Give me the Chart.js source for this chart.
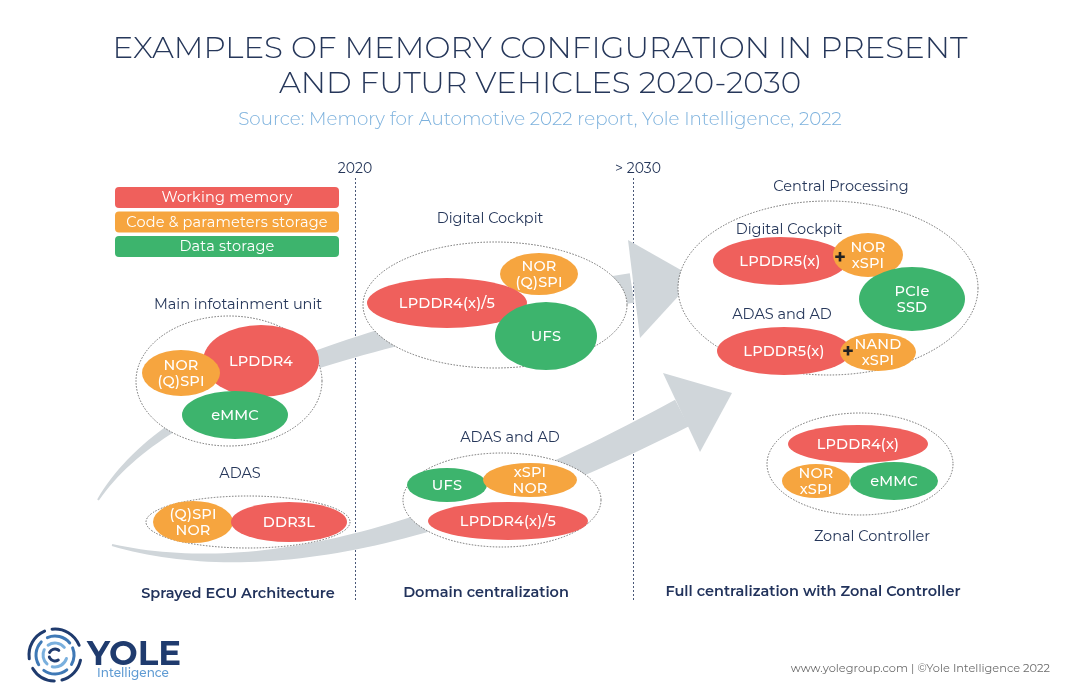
<!DOCTYPE html>
<html>
<head>
<meta charset="utf-8">
<script src="https://cdn.jsdelivr.net/npm/chart.js@4/dist/chart.umd.min.js"></script>
<style>
  html, body { margin: 0; padding: 0; background: #fff; }
  #wrap { width: 1080px; height: 698px; position: relative; }
</style>
</head>
<body>
<div id="wrap"><canvas id="memChart"></canvas></div>
<script>
// ===================================================
// Memory configuration diagram — data
// ===================================================

const titleLines = ['EXAMPLES OF MEMORY CONFIGURATION IN PRESENT', 'AND FUTUR VEHICLES 2020-2030'];
const subtitleText = 'Source: Memory for Automotive 2022 report, Yole Intelligence, 2022';
const legendLabels = ['Working memory', 'Code & parameters storage', 'Data storage'];
const eraLabels = ['2020', '> 2030'];
const eraX = [355, 633];

// memory chips (kind: 0 = working, 1 = code, 2 = data)
const chipLabels = [
  ['LPDDR4'], ['NOR', '(Q)SPI'], ['eMMC'],
  ['(Q)SPI', 'NOR'], ['DDR3L'],
  ['NOR', '(Q)SPI'], ['LPDDR4(x)/5'], ['UFS'],
  ['UFS'], ['xSPI', 'NOR'], ['LPDDR4(x)/5'],
  ['LPDDR5(x)'], ['NOR', 'xSPI'], ['PCIe', 'SSD'], ['LPDDR5(x)'], ['NAND', 'xSPI'],
  ['LPDDR4(x)'], ['NOR', 'xSPI'], ['eMMC']
];
const chipKind = [0, 1, 2, 1, 0, 1, 0, 2, 2, 1, 0, 0, 1, 2, 0, 1, 0, 1, 2];
const chipX  = [261, 181, 235, 193, 289, 539, 447, 546, 447, 530, 508, 780, 868, 912, 784, 878, 858, 816, 894];
const chipY  = [361, 373, 415, 522, 522, 274, 303, 336, 485, 480, 521, 261, 255, 299, 351, 352, 444, 481, 481];
const chipRX = [58, 39, 53, 40, 58, 39, 80, 51, 40, 47, 80, 67, 35, 53, 67, 38, 70, 34, 44];
const chipRY = [36, 23, 24, 21, 20, 21, 25, 34, 17, 17, 19, 24, 22, 32, 24, 19, 19, 17, 19];

// dotted group outlines
const groupX  = [229, 248, 495, 502, 828, 860];
const groupY  = [381, 522, 305, 500, 288, 464];
const groupRX = [93, 102, 132, 99, 150, 93];
const groupRY = [65, 26, 63, 47, 87, 51];

const captionText = ['Main infotainment unit', 'ADAS', 'Digital Cockpit', 'ADAS and AD', 'Central Processing',
                     'Digital Cockpit', 'ADAS and AD', 'Zonal Controller'];
const captionX = [238, 240, 490, 510, 841, 789, 782, 872];
const captionY = [305, 474, 219, 438, 187, 230, 315, 537];

const phaseText = ['Sprayed ECU Architecture', 'Domain centralization', 'Full centralization with Zonal Controller'];
const phaseX = [238, 486, 813];
const phaseY = [594, 593, 592];

const plusX = [840, 848];
const plusY = [258, 352];

// big grey arrows: bezier centre line + head
const arrowPaths = [
  [[98, 500], [160, 400], [350, 330], [632, 288]],
  [[112, 545], [250, 580], [430, 545], [682, 413]]
];
const arrowHeads = [
  [[628, 240], [695, 278], [640, 338]],
  [[663, 373], [732, 393], [700, 452]]
];

const KIND_COLORS = ['#ef605c', '#f6a53f', '#3db46d'];
const NAVY = '#26375a';
const FONT = 'Montserrat, Inter, "Open Sans", sans-serif';

// ===================================================
// Drawing plugin
// ===================================================

function bez(p, t) {
  const u = 1 - t;
  const a = u * u * u, b = 3 * u * u * t, c = 3 * u * t * t, d = t * t * t;
  return [a * p[0][0] + b * p[1][0] + c * p[2][0] + d * p[3][0],
          a * p[0][1] + b * p[1][1] + c * p[2][1] + d * p[3][1]];
}

function text(ctx, str, x, y, font, color, spacing) {
  ctx.font = font;
  ctx.fillStyle = color;
  ctx.textAlign = 'center';
  ctx.textBaseline = 'middle';
  ctx.letterSpacing = (spacing || 0) + 'px';
  ctx.fillText(str, x, y);
  ctx.letterSpacing = '0px';
}

const diagramPlugin = {
  id: 'diagram',
  beforeDatasetsDraw(chart) {
    const ctx = chart.ctx;
    const xs = chart.scales.x, ys = chart.scales.y;
    const px = v => xs.getPixelForValue(v);
    const py = v => ys.getPixelForValue(v);
    ctx.save();

    ctx.fillStyle = '#fff';
    ctx.fillRect(0, 0, chart.width, chart.height);

    // title + source
    text(ctx, titleLines[0], px(540), py(49), `300 31px ${FONT}`, NAVY, 0);
    text(ctx, titleLines[1], px(540), py(84), `300 31px ${FONT}`, NAVY, 0);
    text(ctx, subtitleText, px(540), py(120), `300 18.3px ${FONT}`, '#7cb1dd', 0);

    // era separators
    ctx.strokeStyle = '#4a5878';
    ctx.lineWidth = 1;
    ctx.setLineDash([2, 2]);
    eraX.forEach((x, i) => {
      ctx.beginPath();
      ctx.moveTo(px(x) + 0.5, py(178));
      ctx.lineTo(px(x) + 0.5, py(600));
      ctx.stroke();
      text(ctx, eraLabels[i], px(x) + (i === 0 ? 0 : 5), py(169), `400 14px ${FONT}`, NAVY, 0);
    });
    ctx.setLineDash([]);

    // arrows
    ctx.fillStyle = '#d0d6da';
    arrowPaths.forEach((p, k) => {
      const top = [], bot = [];
      for (let i = 0; i <= 60; i++) {
        const t = i / 60;
        const a = bez(p, Math.max(0, t - 0.01)), b = bez(p, Math.min(1, t + 0.01));
        const c = bez(p, t);
        let dx = px(b[0]) - px(a[0]), dy = py(b[1]) - py(a[1]);
        const n = Math.hypot(dx, dy);
        dx /= n; dy /= n;
        const w = (2 + 28 * t) / 2;
        top.push([px(c[0]) + dy * w, py(c[1]) - dx * w]);
        bot.push([px(c[0]) - dy * w, py(c[1]) + dx * w]);
      }
      ctx.beginPath();
      top.forEach((q, i) => i ? ctx.lineTo(q[0], q[1]) : ctx.moveTo(q[0], q[1]));
      bot.reverse().forEach(q => ctx.lineTo(q[0], q[1]));
      ctx.closePath();
      ctx.fill();
      const h = arrowHeads[k];
      ctx.beginPath();
      ctx.moveTo(px(h[0][0]), py(h[0][1]));
      ctx.lineTo(px(h[1][0]), py(h[1][1]));
      ctx.lineTo(px(h[2][0]), py(h[2][1]));
      ctx.closePath();
      ctx.fill();
    });

    // group outlines
    const gMeta = chart.getDatasetMeta(1);
    gMeta.data.forEach((pt, i) => {
      const rx = px(groupX[i] + groupRX[i]) - pt.x;
      const ry = py(groupY[i] + groupRY[i]) - pt.y;
      ctx.beginPath();
      ctx.ellipse(pt.x, pt.y, rx, ry, 0, 0, Math.PI * 2);
      ctx.fillStyle = '#fff';
      ctx.fill();
      ctx.setLineDash([1.5, 1.5]);
      ctx.strokeStyle = '#6f6f6f';
      ctx.lineWidth = 1;
      ctx.stroke();
      ctx.setLineDash([]);
    });

    // memory chips
    const cMeta = chart.getDatasetMeta(0);
    cMeta.data.forEach((pt, i) => {
      const rx = px(chipX[i] + chipRX[i]) - pt.x;
      const ry = py(chipY[i] + chipRY[i]) - pt.y;
      ctx.beginPath();
      ctx.ellipse(pt.x, pt.y, rx, ry, 0, 0, Math.PI * 2);
      ctx.fillStyle = KIND_COLORS[chipKind[i]];
      ctx.fill();
      const lines = chipLabels[i];
      lines.forEach((s, j) => {
        const off = (j - (lines.length - 1) / 2) * 16;
        text(ctx, s, pt.x, pt.y + off + 1, `500 14.5px ${FONT}`, '#fff', 0.2);
      });
    });

    plusX.forEach((x, i) => text(ctx, '+', px(x), py(plusY[i]), `700 20px ${FONT}`, '#222', 0));

    // captions
    captionText.forEach((s, i) => text(ctx, s, px(captionX[i]), py(captionY[i]), `400 14.5px ${FONT}`, NAVY, 0));
    phaseText.forEach((s, i) => text(ctx, s, px(phaseX[i]), py(phaseY[i]), `600 14.5px ${FONT}`, '#22335c', 0));

    // legend
    legendLabels.forEach((s, i) => {
      const y0 = 187 + i * 24.5;
      ctx.beginPath();
      ctx.roundRect(px(115), py(y0), px(339) - px(115), py(y0 + 21) - py(y0), 4);
      ctx.fillStyle = KIND_COLORS[i];
      ctx.fill();
      text(ctx, s, px(227), py(y0 + 11), `400 14.5px ${FONT}`, '#fff', 0.2);
    });

    // footer: logo + credit
    const lc = [px(55), py(655)];
    const rings = [[26, '#1f3b6e', [[0.2, 1.3], [1.6, 2.6], [3.0, 4.3], [4.6, 5.9]]],
                   [19, '#3f79b6', [[0.9, 2.2], [2.6, 3.9], [4.3, 5.6], [5.9, 6.8]]],
                   [12, '#7ab0de', [[0.3, 1.8], [2.3, 3.6], [4.1, 5.6]]],
                   [6, '#1f3b6e', [[1.0, 2.8], [3.6, 5.4]]]];
    ctx.lineCap = 'round';
    rings.forEach(([r, col, segs]) => {
      ctx.strokeStyle = col;
      ctx.lineWidth = 3;
      segs.forEach(([a, b]) => {
        ctx.beginPath();
        ctx.arc(lc[0], lc[1], r, a, b);
        ctx.stroke();
      });
    });
    ctx.font = `700 34px ${FONT}`;
    ctx.fillStyle = '#1f3b6e';
    ctx.textAlign = 'left';
    ctx.textBaseline = 'alphabetic';
    ctx.fillText('YOLE', px(87), py(665));
    ctx.font = `500 12px ${FONT}`;
    ctx.fillStyle = '#5f9bd3';
    ctx.fillText('Intelligence', px(97), py(677));
    ctx.font = `400 11.4px ${FONT}`;
    ctx.fillStyle = '#6d6d6d';
    ctx.textAlign = 'right';
    ctx.fillText('www.yolegroup.com | ©Yole Intelligence 2022', px(1050), py(672));

    ctx.restore();
  }
};

// ===================================================
// Chart
// ===================================================

const chipPoints = chipX.map((x, i) => ({ x, y: chipY[i] }));
const groupPoints = groupX.map((x, i) => ({ x, y: groupY[i] }));

new Chart(document.getElementById('memChart'), {
  type: 'scatter',
  data: {
    datasets: [
      { label: 'chips', data: chipPoints, pointRadius: 0, pointHoverRadius: 0 },
      { label: 'groups', data: groupPoints, pointRadius: 0, pointHoverRadius: 0 }
    ]
  },
  options: {
    responsive: true,
    maintainAspectRatio: false,
    animation: false,
    layout: { padding: 0 },
    events: [],
    plugins: { legend: { display: false }, tooltip: { enabled: false } },
    scales: {
      x: { type: 'linear', min: 0, max: 1080, display: false },
      y: { type: 'linear', min: 0, max: 698, reverse: true, display: false }
    }
  },
  plugins: [diagramPlugin]
});
</script>
</body>
</html>
